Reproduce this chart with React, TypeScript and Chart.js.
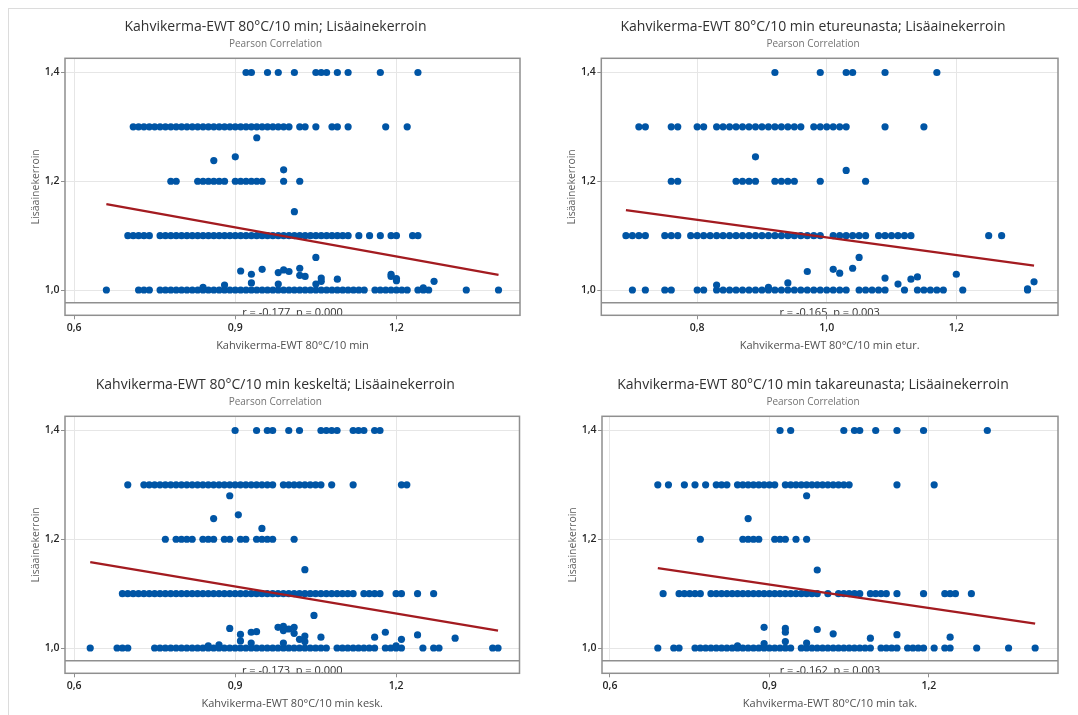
import React, { useEffect, useRef } from "react";
import { Chart, registerables } from "chart.js";

Chart.register(...registerables);

const FONT_FAMILY = "'Open Sans', 'Noto Sans', sans-serif";

// ---------- shared axis data ----------
const LEVELS = [1.0, 1.1, 1.2, 1.3, 1.4];
const Y_TICKS = [1.0, 1.2, 1.4];
const X_TICKS_A = [0.6, 0.9, 1.2];
const X_TICKS_B = [0.8, 1.0, 1.2];
const SUBTITLE = "Pearson Correlation";
const Y_LABEL = "Lisäainekerroin";

// ---------- panel 1 ----------
const p1Title = "Kahvikerma-EWT 80°C/10 min; Lisäainekerroin";
const p1XLabel = "Kahvikerma-EWT 80°C/10 min";
const p1Stat = "r = -0,177  p = 0,000";
const p1Row10 = [0.66, 0.72, 0.73, 0.74, 0.76, 0.77, 0.78, 0.79, 0.8, 0.81, 0.82, 0.83, 0.84, 0.85, 0.86, 0.87, 0.88, 0.89, 0.9, 0.91, 0.92, 0.93, 0.94, 0.95, 0.96, 0.97, 0.98, 0.99, 1.0, 1.01, 1.02, 1.03, 1.04, 1.05, 1.06, 1.07, 1.08, 1.09, 1.1, 1.11, 1.12, 1.13, 1.14, 1.16, 1.17, 1.18, 1.19, 1.2, 1.21, 1.22, 1.24, 1.25, 1.26, 1.33, 1.39];
const p1Row11 = [0.7, 0.71, 0.72, 0.73, 0.74, 0.76, 0.77, 0.78, 0.79, 0.8, 0.81, 0.82, 0.83, 0.84, 0.85, 0.86, 0.87, 0.88, 0.89, 0.9, 0.91, 0.92, 0.93, 0.94, 0.95, 0.96, 0.97, 0.98, 0.99, 1.0, 1.01, 1.02, 1.03, 1.04, 1.05, 1.06, 1.07, 1.08, 1.09, 1.1, 1.11, 1.13, 1.15, 1.17, 1.19, 1.2, 1.23, 1.24];
const p1Row12 = [0.78, 0.79, 0.83, 0.84, 0.85, 0.86, 0.87, 0.88, 0.9, 0.91, 0.92, 0.93, 0.94, 0.95, 0.99, 1.02];
const p1Row13 = [0.71, 0.72, 0.73, 0.74, 0.75, 0.76, 0.77, 0.78, 0.79, 0.8, 0.81, 0.82, 0.83, 0.84, 0.85, 0.86, 0.87, 0.88, 0.89, 0.9, 0.91, 0.92, 0.93, 0.94, 0.95, 0.96, 0.97, 0.98, 0.99, 1.0, 1.02, 1.03, 1.05, 1.08, 1.09, 1.11, 1.18, 1.22];
const p1Row14 = [0.92, 0.93, 0.96, 0.98, 1.01, 1.05, 1.06, 1.07, 1.09, 1.11, 1.17, 1.24];
const p1OtherX = [0.94, 0.9, 0.86, 0.99, 1.01, 1.05, 0.84, 0.88, 0.91, 0.93, 0.93, 0.95, 0.98, 0.98, 0.99, 1.0, 1.02, 1.02, 1.03, 1.05, 1.06, 1.06, 1.09, 1.19, 1.19, 1.2, 1.2, 1.25, 1.27];
const p1OtherY = [1.28, 1.245, 1.238, 1.221, 1.144, 1.06, 1.005, 1.009, 1.035, 1.029, 1.013, 1.038, 1.011, 1.032, 1.037, 1.034, 1.04, 1.027, 1.025, 1.011, 1.022, 1.016, 1.02, 1.029, 1.025, 1.021, 1.017, 1.004, 1.016];
const p1FitX = [0.66, 1.39];
const p1FitY = [1.158, 1.028];

// ---------- panel 2 ----------
const p2Title = "Kahvikerma-EWT 80°C/10 min etureunasta; Lisäainekerroin";
const p2XLabel = "Kahvikerma-EWT 80°C/10 min etur.";
const p2Stat = "r = -0,165  p = 0,003";
const p2Row10 = [0.7, 0.72, 0.75, 0.76, 0.8, 0.81, 0.83, 0.84, 0.85, 0.86, 0.87, 0.88, 0.89, 0.9, 0.91, 0.92, 0.93, 0.94, 0.95, 0.96, 0.97, 0.98, 0.99, 1.0, 1.01, 1.02, 1.03, 1.05, 1.06, 1.07, 1.08, 1.09, 1.12, 1.14, 1.15, 1.16, 1.17, 1.18, 1.21, 1.31];
const p2Row11 = [0.69, 0.7, 0.71, 0.72, 0.75, 0.76, 0.77, 0.79, 0.8, 0.81, 0.82, 0.83, 0.84, 0.85, 0.86, 0.87, 0.88, 0.89, 0.9, 0.91, 0.92, 0.93, 0.94, 0.95, 0.96, 0.97, 0.98, 0.99, 1.01, 1.02, 1.03, 1.04, 1.05, 1.06, 1.08, 1.09, 1.1, 1.11, 1.12, 1.13, 1.25, 1.27];
const p2Row12 = [0.76, 0.77, 0.86, 0.87, 0.88, 0.89, 0.92, 0.93, 0.94, 0.95, 0.99, 1.06];
const p2Row13 = [0.71, 0.72, 0.76, 0.77, 0.8, 0.81, 0.83, 0.84, 0.85, 0.86, 0.87, 0.88, 0.89, 0.9, 0.91, 0.92, 0.93, 0.94, 0.95, 0.96, 0.98, 0.99, 1.0, 1.01, 1.02, 1.03, 1.09, 1.15];
const p2Row14 = [0.92, 0.99, 1.03, 1.04, 1.09, 1.17];
const p2OtherX = [0.89, 1.03, 0.83, 0.91, 0.94, 0.97, 1.01, 1.02, 1.04, 1.05, 1.09, 1.11, 1.13, 1.14, 1.2, 1.31, 1.32];
const p2OtherY = [1.245, 1.22, 1.009, 1.005, 1.013, 1.034, 1.038, 1.031, 1.04, 1.06, 1.022, 1.011, 1.02, 1.024, 1.029, 1.002, 1.015];
const p2FitX = [0.69, 1.32];
const p2FitY = [1.147, 1.045];

// ---------- panel 3 ----------
const p3Title = "Kahvikerma-EWT 80°C/10 min keskeltä; Lisäainekerroin";
const p3XLabel = "Kahvikerma-EWT 80°C/10 min kesk.";
const p3Stat = "r = -0,173  p = 0,000";
const p3Row10 = [0.63, 0.68, 0.69, 0.7, 0.75, 0.76, 0.77, 0.78, 0.79, 0.8, 0.81, 0.82, 0.83, 0.84, 0.85, 0.86, 0.87, 0.88, 0.89, 0.9, 0.91, 0.92, 0.93, 0.94, 0.95, 0.96, 0.97, 0.98, 0.99, 1.0, 1.01, 1.02, 1.03, 1.04, 1.05, 1.06, 1.07, 1.09, 1.1, 1.11, 1.12, 1.13, 1.14, 1.15, 1.16, 1.18, 1.19, 1.2, 1.21, 1.25, 1.27, 1.28, 1.38, 1.39];
const p3Row11 = [0.69, 0.7, 0.71, 0.72, 0.73, 0.74, 0.75, 0.76, 0.77, 0.78, 0.79, 0.8, 0.81, 0.82, 0.83, 0.84, 0.85, 0.86, 0.87, 0.88, 0.89, 0.9, 0.91, 0.92, 0.93, 0.94, 0.95, 0.96, 0.97, 0.98, 0.99, 1.0, 1.01, 1.02, 1.03, 1.04, 1.05, 1.06, 1.07, 1.08, 1.09, 1.1, 1.11, 1.12, 1.14, 1.15, 1.16, 1.17, 1.2, 1.21, 1.24, 1.27];
const p3Row12 = [0.77, 0.79, 0.8, 0.81, 0.82, 0.84, 0.85, 0.86, 0.88, 0.89, 0.91, 0.92, 0.94, 0.95, 0.96, 0.97, 1.01];
const p3Row13 = [0.7, 0.73, 0.74, 0.75, 0.76, 0.77, 0.78, 0.79, 0.8, 0.81, 0.82, 0.83, 0.84, 0.85, 0.86, 0.87, 0.88, 0.89, 0.9, 0.91, 0.92, 0.93, 0.94, 0.95, 0.96, 0.97, 0.99, 1.0, 1.01, 1.02, 1.03, 1.04, 1.05, 1.06, 1.08, 1.12, 1.21, 1.22];
const p3Row14 = [0.9, 0.94, 0.96, 0.97, 1.0, 1.02, 1.06, 1.07, 1.08, 1.09, 1.12, 1.13, 1.14, 1.16, 1.17];
const p3OtherX = [0.89, 0.906, 0.86, 0.95, 1.03, 1.047, 0.85, 0.87, 0.89, 0.91, 0.91, 0.93, 0.94, 0.93, 0.98, 0.99, 0.99, 0.99, 1.0, 1.01, 1.01, 1.02, 1.03, 1.03, 1.06, 1.16, 1.18, 1.21, 1.24, 1.31, 1.2];
const p3OtherY = [1.28, 1.245, 1.238, 1.22, 1.144, 1.06, 1.004, 1.006, 1.036, 1.025, 1.013, 1.029, 1.03, 1.009, 1.038, 1.04, 1.032, 1.009, 1.035, 1.038, 1.027, 1.016, 1.022, 1.012, 1.02, 1.02, 1.029, 1.016, 1.024, 1.018, 1.004];
const p3FitX = [0.63, 1.39];
const p3FitY = [1.158, 1.032];

// ---------- panel 4 ----------
const p4Title = "Kahvikerma-EWT 80°C/10 min takareunasta; Lisäainekerroin";
const p4XLabel = "Kahvikerma-EWT 80°C/10 min tak.";
const p4Stat = "r = -0,162  p = 0,003";
const p4Row10 = [0.69, 0.72, 0.73, 0.76, 0.77, 0.78, 0.79, 0.8, 0.81, 0.82, 0.83, 0.84, 0.85, 0.86, 0.87, 0.88, 0.89, 0.9, 0.91, 0.92, 0.93, 0.94, 0.96, 0.97, 0.98, 0.99, 1.0, 1.01, 1.02, 1.03, 1.04, 1.05, 1.06, 1.07, 1.08, 1.09, 1.11, 1.12, 1.13, 1.14, 1.16, 1.17, 1.18, 1.19, 1.21, 1.23, 1.24, 1.29, 1.35, 1.4];
const p4Row11 = [0.7, 0.73, 0.74, 0.75, 0.76, 0.77, 0.79, 0.8, 0.81, 0.82, 0.83, 0.84, 0.85, 0.86, 0.87, 0.88, 0.89, 0.9, 0.91, 0.92, 0.93, 0.94, 0.95, 0.96, 0.97, 0.98, 0.99, 1.01, 1.03, 1.04, 1.05, 1.06, 1.07, 1.09, 1.1, 1.11, 1.12, 1.14, 1.19, 1.23, 1.24, 1.25, 1.28];
const p4Row12 = [0.77, 0.85, 0.86, 0.87, 0.88, 0.91, 0.92, 0.93, 0.95, 0.97];
const p4Row13 = [0.69, 0.71, 0.74, 0.76, 0.78, 0.8, 0.81, 0.82, 0.84, 0.85, 0.86, 0.87, 0.88, 0.89, 0.9, 0.91, 0.93, 0.94, 0.95, 0.96, 0.97, 0.98, 0.99, 1.0, 1.01, 1.02, 1.03, 1.04, 1.05, 1.14, 1.21];
const p4Row14 = [0.92, 0.94, 1.04, 1.06, 1.07, 1.1, 1.14, 1.19, 1.31];
const p4OtherX = [0.97, 0.86, 0.99, 0.84, 0.89, 0.89, 0.93, 0.93, 0.93, 0.97, 0.99, 1.02, 1.09, 1.14, 1.24];
const p4OtherY = [1.28, 1.238, 1.1435, 1.004, 1.038, 1.008, 1.036, 1.029, 1.012, 1.009, 1.034, 1.026, 1.018, 1.0245, 1.02];
const p4FitX = [0.69, 1.4];
const p4FitY = [1.147, 1.045];

// ---------- panel definitions (data + axis ranges) ----------
const PANELS = [
  { title: p1Title, xLabel: p1XLabel, stat: p1Stat, rows: [p1Row10, p1Row11, p1Row12, p1Row13, p1Row14], otherX: p1OtherX, otherY: p1OtherY, fitX: p1FitX, fitY: p1FitY, xTicks: X_TICKS_A, xMin: 0.583, xMax: 1.43 },
  { title: p2Title, xLabel: p2XLabel, stat: p2Stat, rows: [p2Row10, p2Row11, p2Row12, p2Row13, p2Row14], otherX: p2OtherX, otherY: p2OtherY, fitX: p2FitX, fitY: p2FitY, xTicks: X_TICKS_B, xMin: 0.652, xMax: 1.357 },
  { title: p3Title, xLabel: p3XLabel, stat: p3Stat, rows: [p3Row10, p3Row11, p3Row12, p3Row13, p3Row14], otherX: p3OtherX, otherY: p3OtherY, fitX: p3FitX, fitY: p3FitY, xTicks: X_TICKS_A, xMin: 0.583, xMax: 1.43 },
  { title: p4Title, xLabel: p4XLabel, stat: p4Stat, rows: [p4Row10, p4Row11, p4Row12, p4Row13, p4Row14], otherX: p4OtherX, otherY: p4OtherY, fitX: p4FitX, fitY: p4FitY, xTicks: X_TICKS_A, xMin: 0.585, xMax: 1.443 },
];

// ---------- layout (pixels) ----------
// padLeft + yAxisW = plot left edge; title centred between padLeft and width - padRight
const LAYOUT = [
  { left: 0, top: 0, width: 551, padLeft: 31, yAxisW: 34, padRight: 31 },
  { left: 551, top: 0, width: 524, padLeft: 17, yAxisW: 33.3, padRight: 17 },
  { left: 0, top: 358, width: 551, padLeft: 31, yAxisW: 34, padRight: 31.5 },
  { left: 551, top: 358, width: 524, padLeft: 17, yAxisW: 34, padRight: 17 },
];
const Y_TITLE_GAP = 29; // distance from plot left edge to centre of y title
const CANVAS_H = 358;
const X_AXIS_H = 42.7;
const STRIP_H = 12.6;
const Y_MIN = 0.9535;
const Y_MAX = 1.4261;

const DOT = "#0055a5";
const FIT = "#a31b20";
const FRAME = "#8f8f8f";
const GRID = "#e6e6e6";

const fmt = (v: number | string) => Number(v).toFixed(1).replace(".", ",");

const corrStrip = {
  id: "corrStrip",
  beforeDatasetsDraw(chart: any) {
    const { ctx, chartArea: a } = chart;
    ctx.save();
    ctx.fillStyle = "#ffffff";
    ctx.fillRect(a.left, a.bottom - STRIP_H, a.right - a.left, STRIP_H);
    ctx.restore();
  },
  afterDraw(chart: any, _args: any, opts: any) {
    const { ctx, chartArea: a } = chart;
    const yLine = a.bottom - STRIP_H;
    ctx.save();
    ctx.beginPath();
    ctx.rect(a.left, yLine, a.right - a.left, STRIP_H);
    ctx.clip();
    ctx.fillStyle = "#333333";
    ctx.font = `11px ${FONT_FAMILY}`;
    ctx.textAlign = "center";
    ctx.textBaseline = "alphabetic";
    ctx.fillText(opts.text || "", (a.left + a.right) / 2, a.bottom + 0.5);
    ctx.restore();
    ctx.save();
    ctx.strokeStyle = FRAME;
    ctx.lineWidth = 1.5;
    ctx.beginPath();
    ctx.moveTo(a.left, yLine);
    ctx.lineTo(a.right, yLine);
    ctx.stroke();
    ctx.strokeRect(a.left, a.top, a.right - a.left, a.bottom - a.top);
    ctx.restore();
  },
};

function Panel({ idx }: { idx: number }) {
  const ref = useRef<HTMLCanvasElement | null>(null);
  const p = PANELS[idx];
  const l = LAYOUT[idx];

  useEffect(() => {
    if (!ref.current) return;
    const points: { x: number; y: number }[] = [];
    p.rows.forEach((xs, i) => xs.forEach((x) => points.push({ x, y: LEVELS[i] })));
    p.otherX.forEach((x, i) => points.push({ x, y: p.otherY[i] }));
    const fit = p.fitX.map((x, i) => ({ x, y: p.fitY[i] }));

    const chart = new Chart(ref.current, {
      type: "scatter",
      data: {
        datasets: [
          {
            data: fit,
            showLine: true,
            borderColor: FIT,
            borderWidth: 2.3,
            pointRadius: 0,
            fill: false,
          } as any,
          {
            data: points,
            pointRadius: 3.6,
            pointBackgroundColor: DOT,
            pointBorderWidth: 0,
            borderColor: DOT,
          } as any,
        ],
      },
      plugins: [corrStrip as any],
      options: {
        animation: false,
        responsive: false,
        devicePixelRatio: 1,
        events: [],
        layout: { padding: { left: l.padLeft, right: l.padRight, top: 0, bottom: 0 } },
        plugins: {
          legend: { display: false },
          tooltip: { enabled: false },
          title: {
            display: true,
            text: p.title,
            color: "#303030",
            font: { family: FONT_FAMILY, size: 14, weight: "normal" },
            padding: { top: 19, bottom: 1 },
          },
          subtitle: {
            display: true,
            text: SUBTITLE,
            color: "#737373",
            font: { family: FONT_FAMILY, size: 10 },
            padding: { top: 1.5, bottom: 8 },
          },
          corrStrip: { text: p.stat },
        } as any,
        scales: {
          x: {
            type: "linear",
            min: p.xMin,
            max: p.xMax,
            afterBuildTicks: (s: any) => {
              s.ticks = p.xTicks.map((v) => ({ value: v }));
            },
            afterFit: (s: any) => {
              s.height = X_AXIS_H;
            },
            grid: { color: GRID, lineWidth: 1, tickLength: 4, tickColor: FRAME },
            border: { display: false },
            ticks: {
              padding: 2,
              color: "#262626",
              font: { family: FONT_FAMILY, size: 10.5, weight: "600" },
              callback: (v: any) => fmt(v),
              maxRotation: 0,
            },
            title: {
              display: true,
              text: p.xLabel,
              color: "#505050",
              font: { family: FONT_FAMILY, size: 11 },
              padding: { top: 0, bottom: 5.4 },
            },
          },
          y: {
            type: "linear",
            min: Y_MIN,
            max: Y_MAX,
            afterBuildTicks: (s: any) => {
              s.ticks = Y_TICKS.map((v) => ({ value: v }));
            },
            afterFit: (s: any) => {
              s.width = l.yAxisW;
            },
            grid: { color: GRID, lineWidth: 1, tickLength: 4, tickColor: FRAME },
            border: { display: false },
            ticks: {
              padding: 1.5,
              color: "#262626",
              font: { family: FONT_FAMILY, size: 10.5, weight: "600" },
              callback: (v: any) => fmt(v),
            },
            title: {
              display: true,
              text: Y_LABEL,
              color: "#606060",
              font: { family: FONT_FAMILY, size: 10.5 },
              padding: { top: l.yAxisW - Y_TITLE_GAP - 6.3, bottom: 0 },
            },
          },
        },
      } as any,
    });
    return () => chart.destroy();
  }, []);

  return (
    <canvas
      ref={ref}
      width={l.width}
      height={CANVAS_H}
      style={{ position: "absolute", left: l.left, top: l.top, width: l.width, height: CANVAS_H }}
    />
  );
}

export default function App() {
  return (
    <div
      style={{
        position: "fixed",
        left: 0,
        top: 0,
        width: 1078,
        height: 715,
        overflow: "hidden",
        background: "#ffffff",
      }}
    >
      <div
        style={{
          position: "absolute",
          left: 8,
          top: 8,
          width: 1400,
          height: 1000,
          border: "1px solid #dcdcdc",
        }}
      />
      {PANELS.map((_, i) => (
        <Panel key={i} idx={i} />
      ))}
    </div>
  );
}
